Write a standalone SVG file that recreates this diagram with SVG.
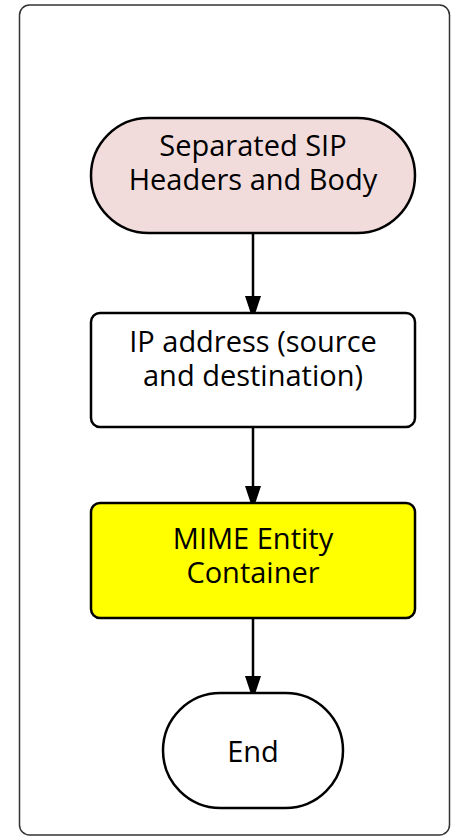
<svg xmlns="http://www.w3.org/2000/svg" width="452" height="837" viewBox="0 0 452 837">
<style>
.n{stroke:#000;stroke-width:2.5}
.t{font-family:"Open Sans","Liberation Sans",sans-serif;font-size:29px;fill:#000;text-anchor:middle}
.c{stroke:#000;stroke-width:2.5;fill:none}
</style>
<defs>
<marker id="ah" viewBox="0 0 16 24" refX="16" refY="8" markerWidth="16" markerHeight="24" markerUnits="userSpaceOnUse" orient="auto">
<path d="M0,0 L24,8 L0,16 Z" fill="#000"/>
</marker>
</defs>
<rect x="19.5" y="5" width="430" height="830" rx="10" fill="#fff" stroke="#333" stroke-width="1.5"/>
<g id="connectors">
<line class="c" x1="253" y1="233" x2="253" y2="312" marker-end="url(#ah)"/>
<line class="c" x1="253" y1="427" x2="253" y2="502" marker-end="url(#ah)"/>
<line class="c" x1="253" y1="618" x2="253" y2="692" marker-end="url(#ah)"/>
</g>
<g id="start">
<rect class="n" x="91" y="118" width="324" height="115" rx="57.5" fill="#f2dcdb"/>
<text class="t" x="253" y="156">Separated SIP</text>
<text class="t" x="253" y="190">Headers and Body</text>
</g>
<g id="ip">
<rect class="n" x="91" y="313" width="324" height="114" rx="9" fill="#fff"/>
<text class="t" x="253" y="352">IP address (source</text>
<text class="t" x="253" y="386">and destination)</text>
</g>
<g id="mime">
<rect class="n" x="91" y="503" width="324" height="115" rx="9" fill="#ffff00"/>
<text class="t" x="253" y="549">MIME Entity</text>
<text class="t" x="253" y="583">Container</text>
</g>
<g id="end">
<rect class="n" x="163" y="693" width="180" height="115" rx="57.5" fill="#fff"/>
<text class="t" x="253" y="762">End</text>
</g>
</svg>
